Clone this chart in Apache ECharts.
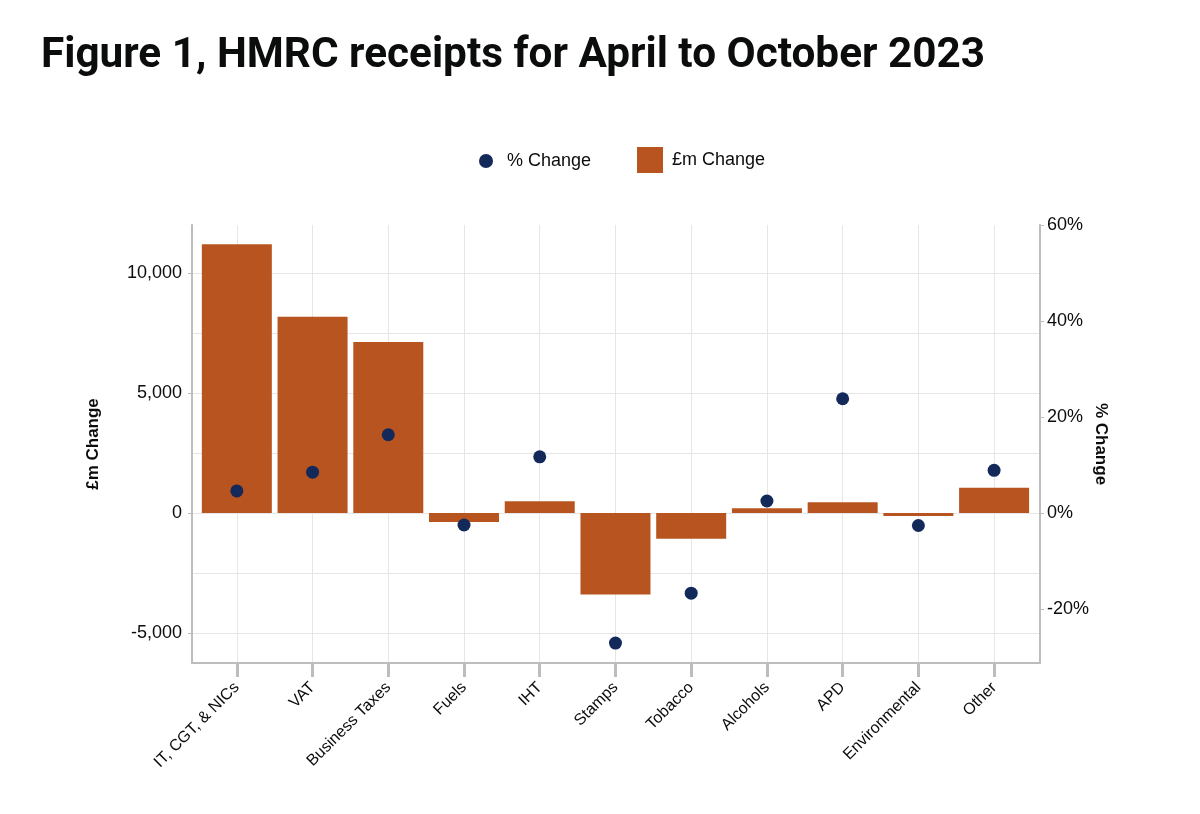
<!DOCTYPE html>
<html>
<head>
<meta charset="utf-8">
<script src="https://cdn.jsdelivr.net/npm/echarts@6/dist/echarts.min.js"></script>
<style>
html,body{margin:0;padding:0;background:#fff;}
#chart{width:1200px;height:814px;}
</style>
</head>
<body>
<div id="chart"></div>
<script>
const titleText = 'Figure 1, HMRC receipts for April to October 2023';
const categories = ['IT, CGT, & NICs','VAT','Business Taxes','Fuels','IHT','Stamps','Tobacco','Alcohols','APD','Environmental','Other'];
const gbpChange = [11200, 8180, 7130, -380, 490, -3400, -1070, 200, 450, -120, 1050];
const pctChange = [4.6, 8.5, 16.3, -2.5, 11.7, -27.1, -16.7, 2.5, 23.8, -2.6, 8.9];
const leftLabelValues = [-5000, 0, 5000, 10000];
const leftGridValues = [-5000, -2500, 0, 2500, 5000, 7500, 10000];
const rightTickValues = [-20, 0, 20, 40, 60];

const catIndex = categories.map((c, i) => i);
const barData = gbpChange.map((v, i) => [i, v]);
const dotData = pctChange.map((v, i) => [i, v]);

const FONT = '"Liberation Sans", Arial, Helvetica, sans-serif';
const TXT = '#0b0c0c';
const AXIS = '#bdbdbd';
const GRID = '#e6e6e6';

const chart = echarts.init(document.getElementById('chart'));
chart.setOption({
  backgroundColor: '#fff',
  animation: false,
  title: {
    text: titleText,
    left: 36, top: 30,
    textStyle: {fontFamily: '"Roboto", sans-serif', fontWeight: 'bold', fontSize: 42.3, color: TXT}
  },
  legend: [
    {
      data: ['% Change'], left: 479, top: 152, padding: 0, itemWidth: 14, itemHeight: 14,
      icon: 'circle',
      textStyle: {fontFamily: FONT, fontSize: 18, color: TXT, padding: [0,0,0,9]}
    },
    {
      data: ['£m Change'], left: 637, top: 147, padding: 0, itemWidth: 26, itemHeight: 26,
      icon: 'rect',
      textStyle: {fontFamily: FONT, fontSize: 18, color: TXT, padding: [0,0,0,4]}
    }
  ],
  grid: {left: 192, right: 160, top: 225, bottom: 151, containLabel: false},
  xAxis: {
    type: 'value',
    min: -0.592, max: 10.606,
    axisLine: {show: true, onZero: false, lineStyle: {color: AXIS, width: 2}},
    axisTick: {show: true, customValues: catIndex, length: 14, lineStyle: {color: AXIS, width: 3}},
    axisLabel: {customValues: catIndex, rotate: 45, fontFamily: FONT, fontSize: 16, color: TXT, margin: 22,
      formatter: v => categories[Math.round(v)]},
    splitLine: {show: true, lineStyle: {color: GRID, width: 1}}
  },
  yAxis: [
    {
      type: 'value', position: 'left', min: -6250, max: 12000,
      name: '£m Change', nameLocation: 'middle', nameGap: 90, nameRotate: 90, nameMoveOverlap: false,
      nameTextStyle: {fontFamily: FONT, fontWeight: 'bold', fontSize: 17, color: TXT},
      axisLine: {show: true, onZero: false, lineStyle: {color: AXIS, width: 2}},
      axisTick: {show: false, customValues: leftGridValues},
      axisLabel: {customValues: leftLabelValues, fontFamily: FONT, fontSize: 18, color: TXT, margin: 10,
        formatter: v => v.toLocaleString('en-GB')},
      splitLine: {show: true, lineStyle: {color: GRID, width: 1}}
    },
    {
      type: 'value', position: 'right', min: -31.25, max: 60,
      name: '% Change', nameLocation: 'middle', nameGap: 52, nameRotate: -90, nameMoveOverlap: false,
      nameTextStyle: {fontFamily: FONT, fontWeight: 'bold', fontSize: 17, color: TXT},
      axisLine: {show: true, onZero: false, lineStyle: {color: AXIS, width: 2}},
      axisTick: {show: true, customValues: rightTickValues, length: 4, lineStyle: {color: AXIS}},
      axisLabel: {customValues: rightTickValues, fontFamily: FONT, fontSize: 18, color: TXT, margin: 7,
        formatter: v => v + '%'},
      splitLine: {show: false}
    },
    {
      type: 'value', position: 'left', min: -6250, max: 12000,
      axisLine: {show: false, onZero: false},
      axisTick: {show: true, customValues: leftLabelValues, length: 4, lineStyle: {color: AXIS}},
      axisLabel: {show: false},
      splitLine: {show: false}
    }
  ],
  series: [
    {
      name: '£m Change', type: 'bar', yAxisIndex: 0, data: barData,
      barWidth: 70,
      itemStyle: {color: '#b8541f'},
      z: 2
    },
    {
      name: '% Change', type: 'scatter', yAxisIndex: 1, data: dotData,
      symbol: 'circle', symbolSize: 13,
      itemStyle: {color: '#12295a', opacity: 1},
      z: 5
    }
  ]
});
</script>
</body>
</html>
